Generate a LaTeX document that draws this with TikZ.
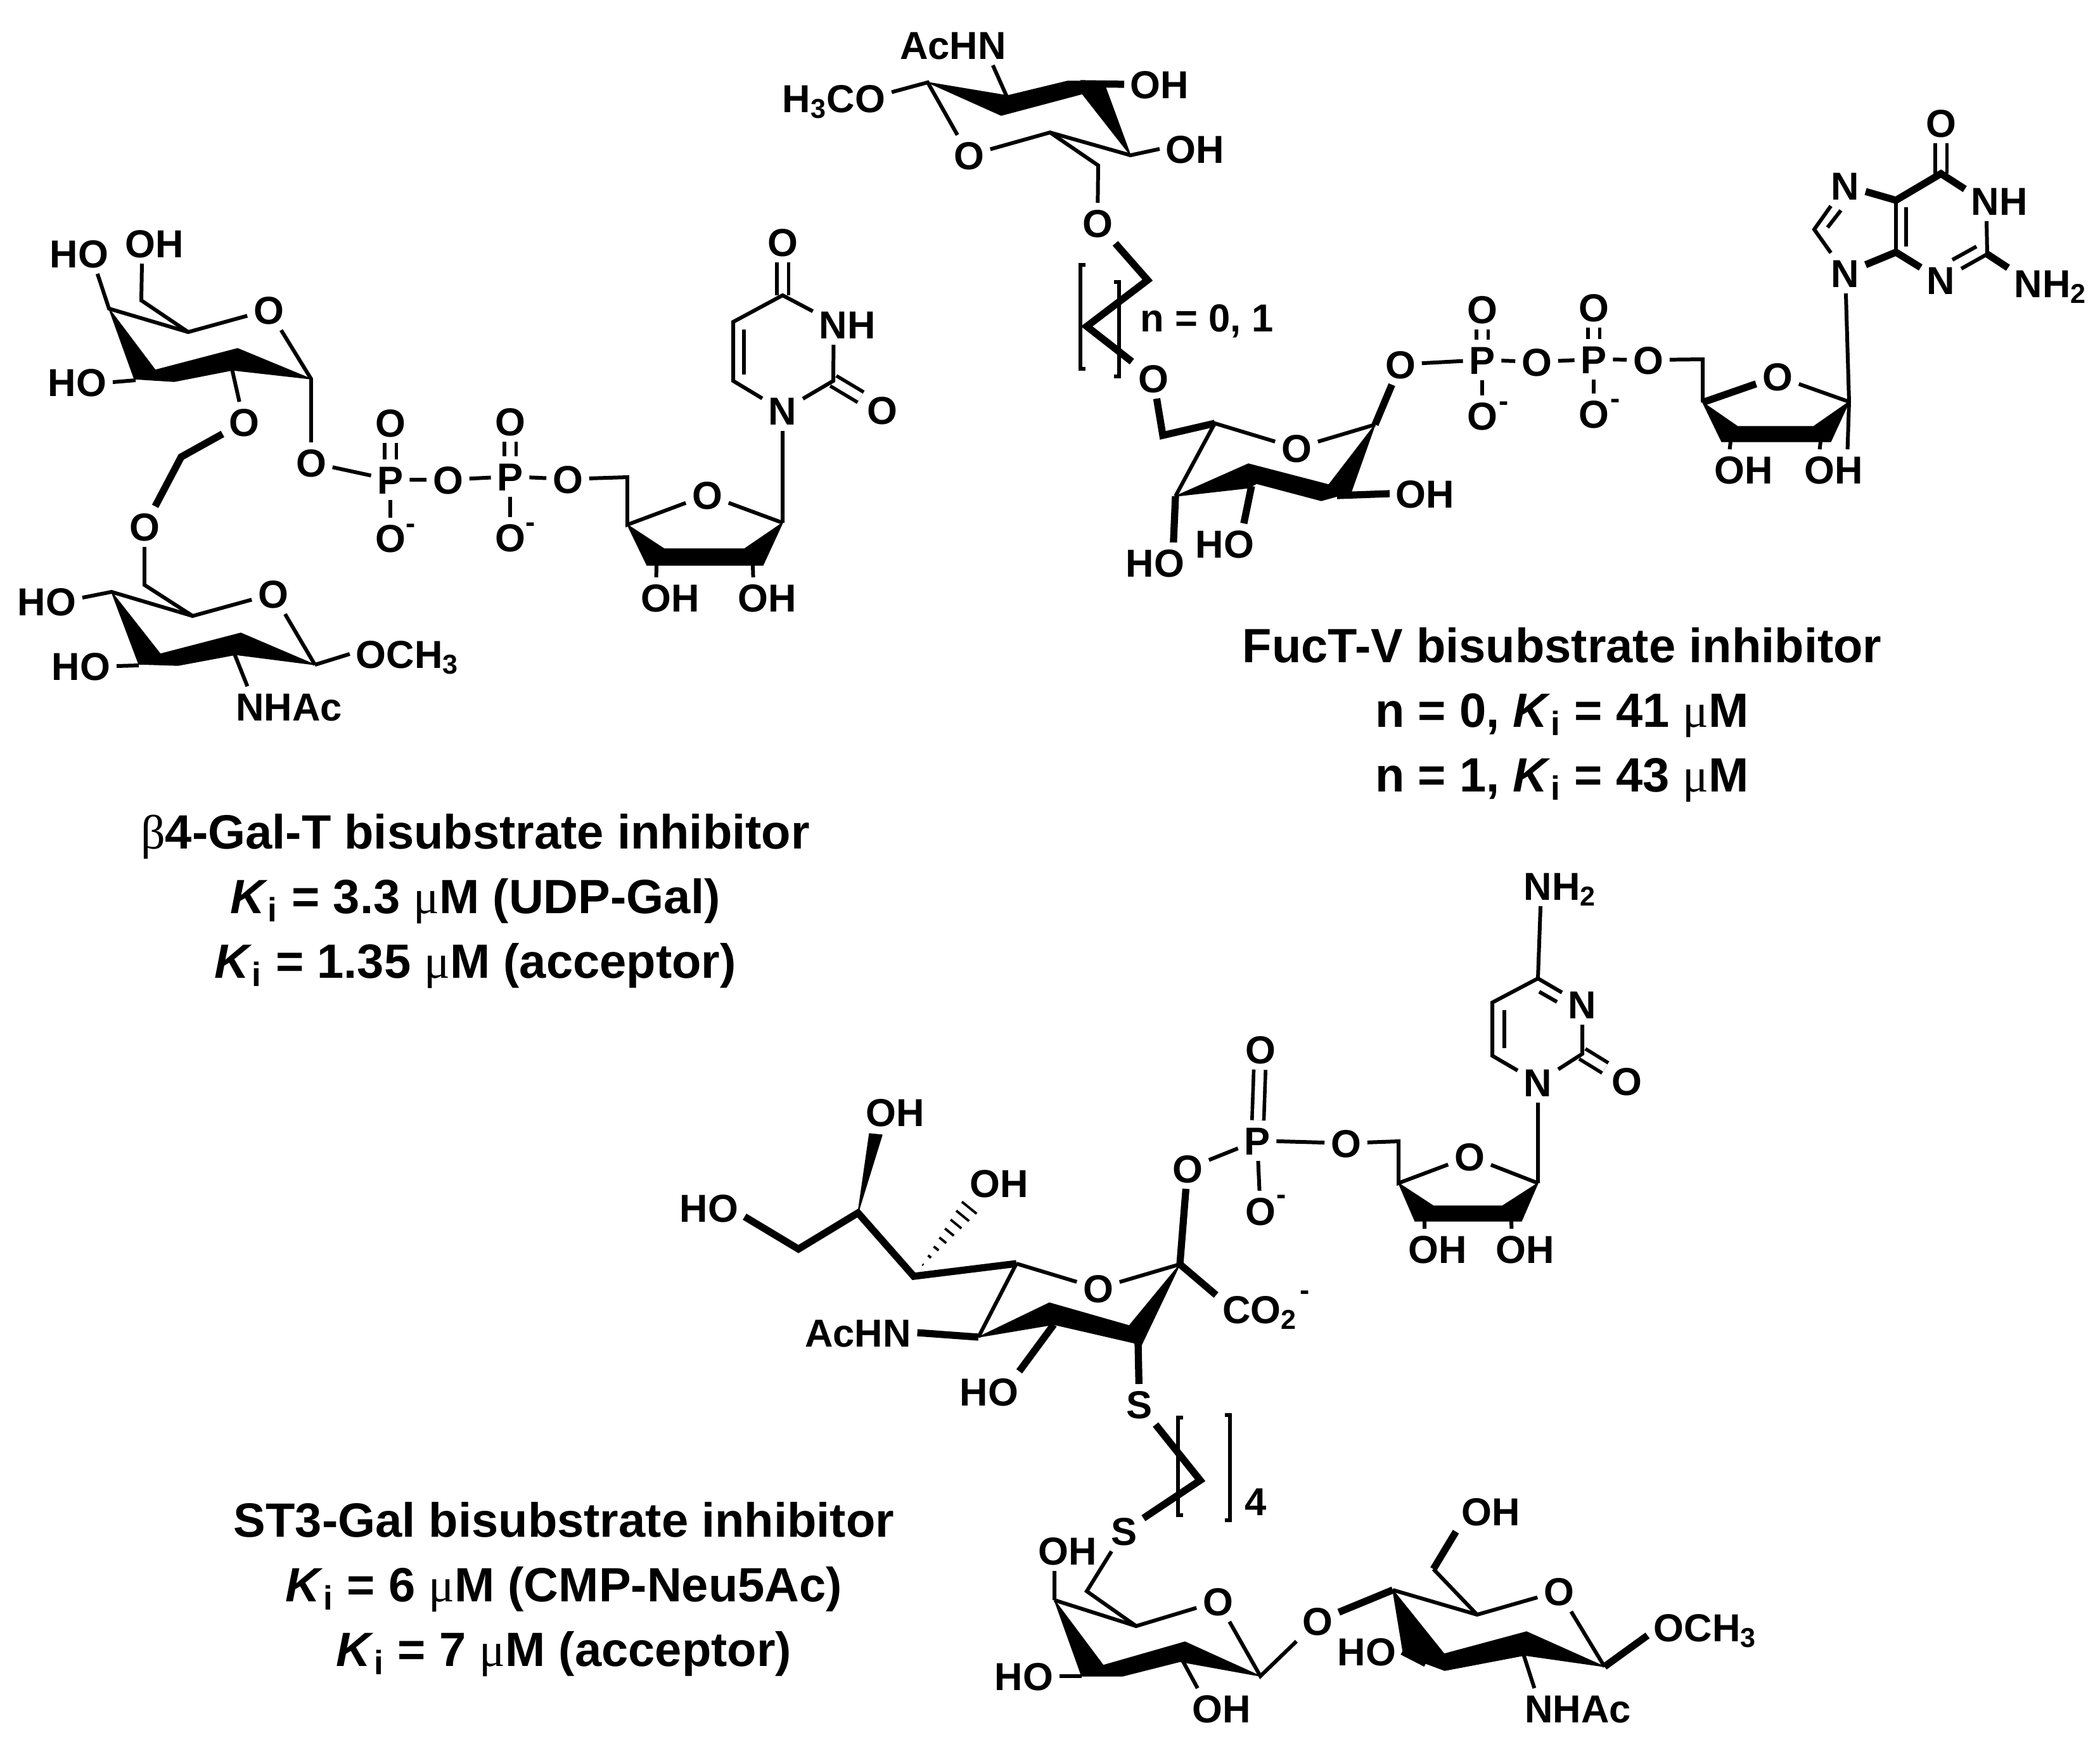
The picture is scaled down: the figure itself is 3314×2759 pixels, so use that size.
\documentclass[tikz,border=0pt]{standalone}
\usepackage{fontspec}
\setmainfont{Liberation Sans}
\newfontfamily\greekfont{Liberation Serif}
\usetikzlibrary{calc}
\newcommand{\Ki}{\textit{K}\textsubscript{i}}
\newcommand{\greek}[1]{{\greekfont\mdseries #1}}
\tikzset{
    atom/.style={font=\bfseries\fontsize{17.5}{20}\selectfont,inner sep=2.6pt,
        text height=12.6pt,text depth=0pt},
    charge/.style={font=\bfseries\fontsize{13}{15}\selectfont,inner sep=0pt},
    caption/.style={font=\bfseries\fontsize{21.6}{28.9}\selectfont,align=center,inner sep=0pt},
    bond/.style={line width=1.7pt,line join=miter},
    bold/.style={line width=3.2pt,line join=miter},
    dbond/.style={line width=1.6pt,double,double distance=3.7pt},
    wedge/.style={fill=black,draw=black,line width=0.4pt,line join=round},
    bracket/.style={line width=1.8pt}
}
\begin{document}
\begin{tikzpicture}[x=0.01cm,y=-0.01cm]
    \useasboundingbox (0,0) rectangle (3314,2759);

    % Gal ring, first inhibitor
    \coordinate (aC4) at (172,487);
    \coordinate (aC6) at (223,474);
    \coordinate (aC5) at (297,524);
    \coordinate (aC1) at (491,598);
    \coordinate (aC2) at (366,582);
    \coordinate (aC3) at (214,600);
    \node [atom] (aO5) at (424,489) {O};
    \node [atom] (aHO4) at (125,400) {HO};
    \node [atom] (aOH6) at (244,384) {OH};
    \node [atom] (aHO3) at (122,603) {HO};
    \node [atom] (aO2) at (385,666) {O};
    \node [atom] (aO1) at (491,730) {O};
    \fill [wedge] (aC4) -- (245,584) -- (375,550) -- (aC1) -- (367,584) -- (275,602) -- (212,598) -- cycle;
    \draw [bond] (aHO4.-48) -- (aC4) -- (aC5) -- (aO5) -- (aC1) -- (aO1);
    \draw [bond] (aOH6.238) -- (aC6) -- (aC5);
    \draw [bond] (aHO3.east) -- (aC3);
    \draw [bond] (aC2) -- (aO2);

    % GlcNAc ring, first inhibitor
    \coordinate (aL) at (286,721);
    \coordinate (bC4) at (176,934);
    \coordinate (bC6) at (228,923);
    \coordinate (bC5) at (304,972);
    \coordinate (bC1) at (497,1049);
    \coordinate (bC2) at (370,1032);
    \coordinate (bC3) at (219,1050);
    \node [atom] (bO6) at (228,831) {O};
    \node [atom] (bO5) at (431,937) {O};
    \node [atom] (bHO4) at (74,949) {HO};
    \node [atom] (bHO3) at (128,1051) {HO};
    \node [atom] (bNHAc) at (456,1115) {NHAc};
    \node [atom] (bOMe) at (643,1032) {OCH\textsubscript{3}};
    \fill [wedge] (bC4) -- (253,1032) -- (380,999) -- (bC1) -- (372,1033) -- (281,1050) -- (219,1048) -- cycle;
    \draw [bold] (aO2) -- (aL) -- (bO6);
    \draw [bond] (bO6) -- (bC6) -- (bC5) -- (bO5) -- (bC1);
    \draw [bond] (bHO4.6) -- (bC4) -- (bC5);
    \draw [bond] (bHO3.east) -- (bC3);
    \draw [bond] (bC2) -- (bNHAc.154);
    \draw [bond] (bC1) -- (bOMe.west);

    % Diphosphate, first inhibitor
    \node [atom] (aP1) at (616,757) {P};
    \node [atom] (aP1a) at (616,667) {O};
    \node [atom] (aP1b) at (616,849) {O};
    \node [charge] (aM1) at (648,834) {-};
    \node [atom] (aOb) at (707,757) {O};
    \node [atom] (aP2) at (805,752) {P};
    \node [atom] (aP2a) at (805,665) {O};
    \node [atom] (aP2b) at (805,848) {O};
    \node [charge] (aM2) at (837,832) {-};
    \node [atom] (aO5r) at (896,756) {O};
    \draw [dbond] (aP1) -- (aP1a);
    \draw [dbond] (aP2) -- (aP2a);
    \draw [bond] (aO1) -- (aP1);
    \draw [bond] (aP1) -- (aP1b);
    \draw [bond] (aP1) -- (aOb) -- (aP2) -- (aO5r);
    \draw [bond] (aP2) -- (aP2b);

    % Ribose, first inhibitor
    \coordinate (aR5) at (990,753);
    \coordinate (aR4) at (990,828);
    \coordinate (aR1) at (1235,825);
    \coordinate (aR3) at (1036,892);
    \coordinate (aR2) at (1188,892);
    \node [atom] (aRO) at (1116,781) {O};
    \node [atom] (aOH3r) at (1058,943) {OH};
    \node [atom] (aOH2r) at (1211,943) {OH};
    \fill [wedge] (aR4) -- (1048,866) -- (1175,866) -- (aR1) -- (1204,892) -- (1021,892) -- cycle;
    \draw [bond] (aO5r) -- (aR5) -- (aR4) -- (aRO) -- (aR1);
    \draw [bond] (aR3) -- (aOH3r.125);
    \draw [bond] (aR2) -- (aOH2r.125);

    % Uracil
    \coordinate (uC6) at (1157,601);
    \coordinate (uC5) at (1157,508);
    \coordinate (uC4) at (1235,466);
    \coordinate (uC2) at (1315,601);
    \coordinate (uI1) at (1174,520);
    \coordinate (uI2) at (1174,591);
    \node [atom] (uN1) at (1235,648) {N};
    \node [atom] (uNH) at (1337,512) {NH};
    \node [atom] (uO4) at (1235,382) {O};
    \node [atom] (uO2) at (1392,647) {O};
    \draw [dbond] (uC4) -- (uO4);
    \draw [dbond] (uC2) -- (uO2);
    \draw [bond] (aR1) -- (uN1) -- (uC6) -- (uC5) -- (uC4) -- (uNH.159);
    \draw [bond] (uNH.236) -- (uC2) -- (uN1);
    \draw [bond] (uI1) -- (uI2);

    % Caption, first inhibitor
    \node [caption] (aCap) at (750,1422) {\greek{β}4-Gal-T bisubstrate inhibitor\\
        \Ki{} = 3.3 \greek{μ}M (UDP-Gal)\\
        \Ki{} = 1.35 \greek{μ}M (acceptor)};

    % GlcNAc ring, second inhibitor
    \coordinate (cC1) at (1464,130);
    \coordinate (cC2) at (1590,155);
    \coordinate (cC4) at (1784,245);
    \coordinate (cC3) at (1705,132);
    \coordinate (cC5) at (1657,209);
    \coordinate (cC6) at (1733,261);
    \coordinate (cL1) at (1811,442);
    \coordinate (cL2) at (1715,515);
    \node [atom] (cNHAc) at (1504,71) {AcHN};
    \node [atom] (cOMe) at (1316,155) {H\textsubscript{3}CO};
    \node [atom] (cOH3) at (1830,133) {OH};
    \node [atom] (cOH4) at (1886,235) {OH};
    \node [atom] (cO5) at (1529,245) {O};
    \node [atom] (cO6) at (1732,352) {O};
    \node [atom] (cO7) at (1820,597) {O};
    \fill [wedge] (cC1) -- (1590,151) -- (1685,128) -- (1741,128) -- (cC4) -- (1708,148) -- (1580,182) -- cycle;
    \draw [bond] (cOMe.6) -- (cC1) -- (cO5) -- (cC5) -- (cC4) -- (cOH4.west);
    \draw [bond] (cNHAc.-27) -- (cC2);
    \draw [bold] (cC3) -- (cOH3.west);
    \draw [bond] (cC5) -- (cC6) -- (cO6);
    \draw [bold] (cO6) -- (cL1) -- (cL2) -- (cO7);

    % n bracket
    \draw [bracket] (1713,418) -- (1705,418) -- (1705,582) -- (1713,582);
    \draw [bracket] (1758,445) -- (1766,445) -- (1766,594) -- (1758,594);
    \node [atom] (cN) at (1905,501) {n = 0, 1};

    % Fuc ring
    \coordinate (dC6) at (1835,687);
    \coordinate (dC5) at (1917,668);
    \coordinate (dC4) at (1855,783);
    \coordinate (dC3) at (1975,767);
    \coordinate (dC2) at (2110,782);
    \coordinate (dC1) at (2170,670);
    \node [atom] (dO5) at (2046,707) {O};
    \node [atom] (dHO4) at (1823,888) {HO};
    \node [atom] (dHO3) at (1933,858) {HO};
    \node [atom] (dOH2) at (2249,779) {OH};
    \node [atom] (dO1) at (2210,575) {O};
    \fill [wedge] (dC4) -- (1970,732) -- (2097,765) -- (dC1) -- (2132,777) -- (2085,790) -- (1983,763) -- (1970,770) -- cycle;
    \draw [bold] (cO7) -- (dC6) -- (dC5);
    \draw [bond] (dC4) -- (dC5) -- (dO5) -- (dC1);
    \draw [bold] (dC4) -- (dHO4.48);
    \draw [bold] (dC3) -- (dHO3.47);
    \draw [bold] (dC2) -- (dOH2.west);
    \draw [bold] (dC1) -- (dO1);

    % Diphosphate, second inhibitor
    \node [atom] (cP1) at (2339,568) {P};
    \node [atom] (cP1a) at (2339,488) {O};
    \node [atom] (cP1b) at (2339,656) {O};
    \node [charge] (cM1) at (2373,641) {-};
    \node [atom] (cOb) at (2425,571) {O};
    \node [atom] (cP2) at (2515,567) {P};
    \node [atom] (cP2a) at (2515,485) {O};
    \node [atom] (cP2b) at (2515,653) {O};
    \node [charge] (cM2) at (2549,637) {-};
    \node [atom] (cO5r) at (2601,568) {O};
    \draw [dbond] (cP1) -- (cP1a);
    \draw [dbond] (cP2) -- (cP2a);
    \draw [bond] (dO1) -- (cP1);
    \draw [bond] (cP1) -- (cP1b);
    \draw [bond] (cP1) -- (cOb) -- (cP2) -- (cO5r);
    \draw [bond] (cP2) -- (cP2b);

    % Ribose, second inhibitor
    \coordinate (cR5) at (2687,567);
    \coordinate (cR4) at (2687,635);
    \coordinate (cR1) at (2918,634);
    \coordinate (cR3) at (2731,697);
    \coordinate (cR2) at (2873,697);
    \node [atom] (cRO) at (2805,594) {O};
    \node [atom] (cOH3r) at (2752,741) {OH};
    \node [atom] (cOH2r) at (2894,741) {OH};
    \fill [wedge] (cR4) -- (2742,673) -- (2862,673) -- (cR1) -- (2889,697) -- (2717,697) -- cycle;
    \draw [bond] (cO5r) -- (cR5) -- (cR4);
    \draw [bold] (cR4) -- (cRO);
    \draw [bond] (cRO) -- (cR1);
    \draw [bond] (cR3) -- (cOH3r.125);
    \draw [bond] (cR2) -- (cOH2r.125);
    \draw [bond] (cR1) -- (cOH2r.56);

    % Guanine
    \coordinate (gC8) at (2863,362);
    \coordinate (gC4) at (2992,398);
    \coordinate (gC5) at (2992,316);
    \coordinate (gC6) at (3063,274);
    \coordinate (gC2) at (3136,401);
    \coordinate (gI1) at (3008,327);
    \coordinate (gI2) at (3008,389);
    \coordinate (gI3) at (2905,332);
    \coordinate (gI4) at (2884,359);
    \coordinate (gI5) at (3081,410);
    \coordinate (gI6) at (3119,389);
    \node [atom] (gN9) at (2912,431) {N};
    \node [atom] (gN7) at (2912,293) {N};
    \node [atom] (gN3) at (3063,442) {N};
    \node [atom] (gNH) at (3155,317) {NH};
    \node [atom] (gNH2) at (3236,447) {NH\textsubscript{2}};
    \node [atom] (gO6) at (3063,194) {O};
    \draw [dbond] (gC6) -- (gO6);
    \draw [bond] (cR1) -- (gN9) -- (gC8) -- (gN7);
    \draw [bond] (gI3) -- (gI4);
    \draw [bond] (gC4) -- (gC5);
    \draw [bond] (gI1) -- (gI2);
    \draw [bold] (gN7) -- (gC5) -- (gC6) -- (gNH.161);
    \draw [bold] (gN9) -- (gC4) -- (gN3);
    \draw [bond] (gNH.238) -- (gC2) -- (gN3);
    \draw [bond] (gI5) -- (gI6);
    \draw [bold] (gC2) -- (gNH2.160);

    % Caption, second inhibitor
    \node [caption] (cCap) at (2465,1128) {FucT-V bisubstrate inhibitor\\
        n = 0, \Ki{} = 41 \greek{μ}M\\
        n = 1, \Ki{} = 43 \greek{μ}M};

    % Neu5Ac
    \coordinate (eC9) at (1260,1971);
    \coordinate (eC8) at (1354,1914);
    \coordinate (eC7) at (1442,2014);
    \coordinate (eC6) at (1604,1994);
    \coordinate (eC5) at (1544,2110);
    \coordinate (eC4) at (1663,2090);
    \coordinate (eC3) at (1796,2119);
    \coordinate (eC2) at (1862,1995);
    \coordinate (eH1) at (1453,2000);
    \coordinate (eH2) at (1540,1893);
    \node [atom] (eOH8) at (1413,1755) {OH};
    \node [atom] (eHO9) at (1119,1906) {HO};
    \node [atom] (eOH7) at (1577,1867) {OH};
    \node [atom] (eO6) at (1733,2033) {O};
    \node [atom] (eNHAc) at (1354,2103) {AcHN};
    \node [atom] (eHO4) at (1561,2196) {HO};
    \node [atom] (eO2) at (1874,1844) {O};
    \node [atom] (eCO) at (1988,2066) {CO\textsubscript{2}};
    \node [charge] (eM) at (2059,2044) {-};
    \node [atom] (eS1) at (1798,2216) {S};
    \fill [wedge] (eC8) -- (1372,1789) -- (1392,1791) -- cycle;
    \fill [wedge] (1544,2110) -- (1656,2056) -- (1782,2092) -- (eC2) -- (1800,2125) -- (1789,2119) -- (1663,2090) -- cycle;
    \foreach \t/\w in {0.04/1,0.16/3,0.28/5,0.40/7,0.52/9,0.64/11,0.76/13,0.88/15}
        \draw [line width=1.1pt] ($(eH1)!\t!(eH2)+(0.776*\w,0.63*\w)$) -- ($(eH1)!\t!(eH2)-(0.776*\w,0.63*\w)$);
    \draw [bold] (eHO9.-14) -- (eC9) -- (eC8) -- (eC7) -- (eC6);
    \draw [bond] (eC6) -- (eO6) -- (eC2);
    \draw [bond] (eC6) -- (eC5);
    \draw [bold] (eNHAc.east) -- (eC5);
    \draw [bold] (eC4) -- (eHO4.34);
    \draw [bold] (eC2) -- (eO2);
    \draw [bold] (eC2) -- (eCO.162);
    \draw [bold] (eC3) -- (eS1);

    % Phosphate and ribose, third inhibitor
    \node [atom] (eP) at (1984,1800) {P};
    \node [atom] (ePa) at (1989,1656) {O};
    \node [atom] (ePb) at (1989,1911) {O};
    \node [charge] (ePm) at (2022,1893) {-};
    \node [atom] (eO5r) at (2124,1804) {O};
    \coordinate (eR5) at (2207,1801);
    \coordinate (eR4) at (2207,1867);
    \coordinate (eR1) at (2427,1867);
    \coordinate (eR3) at (2248,1927);
    \coordinate (eR2) at (2385,1927);
    \node [atom] (eRO) at (2319,1825) {O};
    \node [atom] (eOH3r) at (2269,1971) {OH};
    \node [atom] (eOH2r) at (2407,1971) {OH};
    \draw [dbond] (eP) -- (ePa);
    \draw [bond] (eO2) -- (eP) -- (ePb);
    \draw [bond] (eP) -- (eO5r);
    \fill [wedge] (eR4) -- (2262,1903) -- (2371,1903) -- (eR1) -- (2401,1927) -- (2233,1927) -- cycle;
    \draw [bond] (eO5r) -- (eR5) -- (eR4) -- (eRO) -- (eR1);
    \draw [bond] (eR3) -- (eOH3r.123);
    \draw [bond] (eR2) -- (eOH2r.124);

    % Cytosine
    \coordinate (hC6) at (2355,1666);
    \coordinate (hC5) at (2355,1582);
    \coordinate (hC4) at (2427,1544);
    \coordinate (hC2) at (2497,1663);
    \coordinate (hI1) at (2374,1594);
    \coordinate (hI2) at (2374,1654);
    \coordinate (hI3) at (2429,1565);
    \coordinate (hI4) at (2457,1581);
    \node [atom] (hN1) at (2427,1708) {N};
    \node [atom] (hN3) at (2497,1585) {N};
    \node [atom] (hNH2) at (2462,1398) {NH\textsubscript{2}};
    \node [atom] (hO2) at (2567,1706) {O};
    \draw [dbond] (hC2) -- (hO2);
    \draw [bond] (eR1) -- (hN1) -- (hC6) -- (hC5) -- (hC4) -- (hN3) -- (hC2) -- (hN1);
    \draw [bond] (hC4) -- (hNH2.226);
    \draw [bond] (hI1) -- (hI2);
    \draw [bond] (hI3) -- (hI4);

    % Linker, third inhibitor
    \coordinate (eL) at (1894,2336);
    \node [atom] (eS2) at (1774,2416) {S};
    \draw [bold] (eS1) -- (eL) -- (eS2);
    \draw [bracket] (1867,2237) -- (1859,2237) -- (1859,2391) -- (1867,2391);
    \draw [bracket] (1933,2233) -- (1941,2233) -- (1941,2399) -- (1933,2399);
    \node [atom] (eFour) at (1982,2369) {4};

    % Gal ring, third inhibitor
    \coordinate (fC6) at (1715,2511);
    \coordinate (fC5) at (1793,2566);
    \coordinate (fC4) at (1664,2525);
    \coordinate (fC3) at (1707,2645);
    \coordinate (fC2) at (1866,2620);
    \coordinate (fC1) at (1989,2645);
    \node [atom] (fOH4) at (1685,2447) {OH};
    \node [atom] (fHO3) at (1616,2645) {HO};
    \node [atom] (fOH2) at (1928,2696) {OH};
    \node [atom] (fO5) at (1922,2527) {O};
    \node [atom] (fO1) at (2079,2558) {O};
    \fill [wedge] (fC4) -- (1741,2628) -- (1870,2591) -- (fC1) -- (1862,2622) -- (1771,2645) -- (fC3) -- cycle;
    \draw [bond] (eS2) -- (fC6) -- (fC5) -- (fO5) -- (fC1) -- (fO1);
    \draw [bond] (fC4) -- (fC5);
    \draw [bond] (fC4) -- (fOH4.237);
    \draw [bond] (fHO3.east) -- (fC3);
    \draw [bond] (fC2) -- (fOH2.140);

    % GlcNAc ring, third inhibitor
    \coordinate (kC4) at (2198,2509);
    \coordinate (kC5) at (2331,2548);
    \coordinate (kC6) at (2262,2476);
    \coordinate (kC3) at (2250,2625);
    \coordinate (kC2) at (2404,2610);
    \coordinate (kC1) at (2532,2630);
    \node [atom] (kOH6) at (2353,2385) {OH};
    \node [atom] (kHO3) at (2157,2606) {HO};
    \node [atom] (kO5) at (2460,2511) {O};
    \node [atom] (kNHAc) at (2490,2696) {NHAc};
    \node [atom] (kOMe) at (2691,2568) {OCH\textsubscript{3}};
    \fill [wedge] (kC4) -- (2279,2610) -- (2409,2575) -- (kC1) -- (2406,2612) -- (2280,2636) -- (2215,2612) -- cycle;
    \draw [bold] (fO1) -- (kC4);
    \draw [bond] (kC4) -- (kC5) -- (kO5) -- (kC1);
    \draw [bond] (kC5) -- (kC6);
    \draw [bold] (kC6) -- (kOH6.210);
    \draw [bold] (kC3) -- (kHO3.east);
    \draw [bond] (kC2) -- (kNHAc.155);
    \draw [bold] (kC1) -- (kOMe.188);

    % Caption, third inhibitor
    \node [caption] (eCap) at (890,2508) {ST3-Gal bisubstrate inhibitor\\
        \Ki{} = 6 \greek{μ}M (CMP-Neu5Ac)\\
        \Ki{} = 7 \greek{μ}M (acceptor)};
\end{tikzpicture}
\end{document}
